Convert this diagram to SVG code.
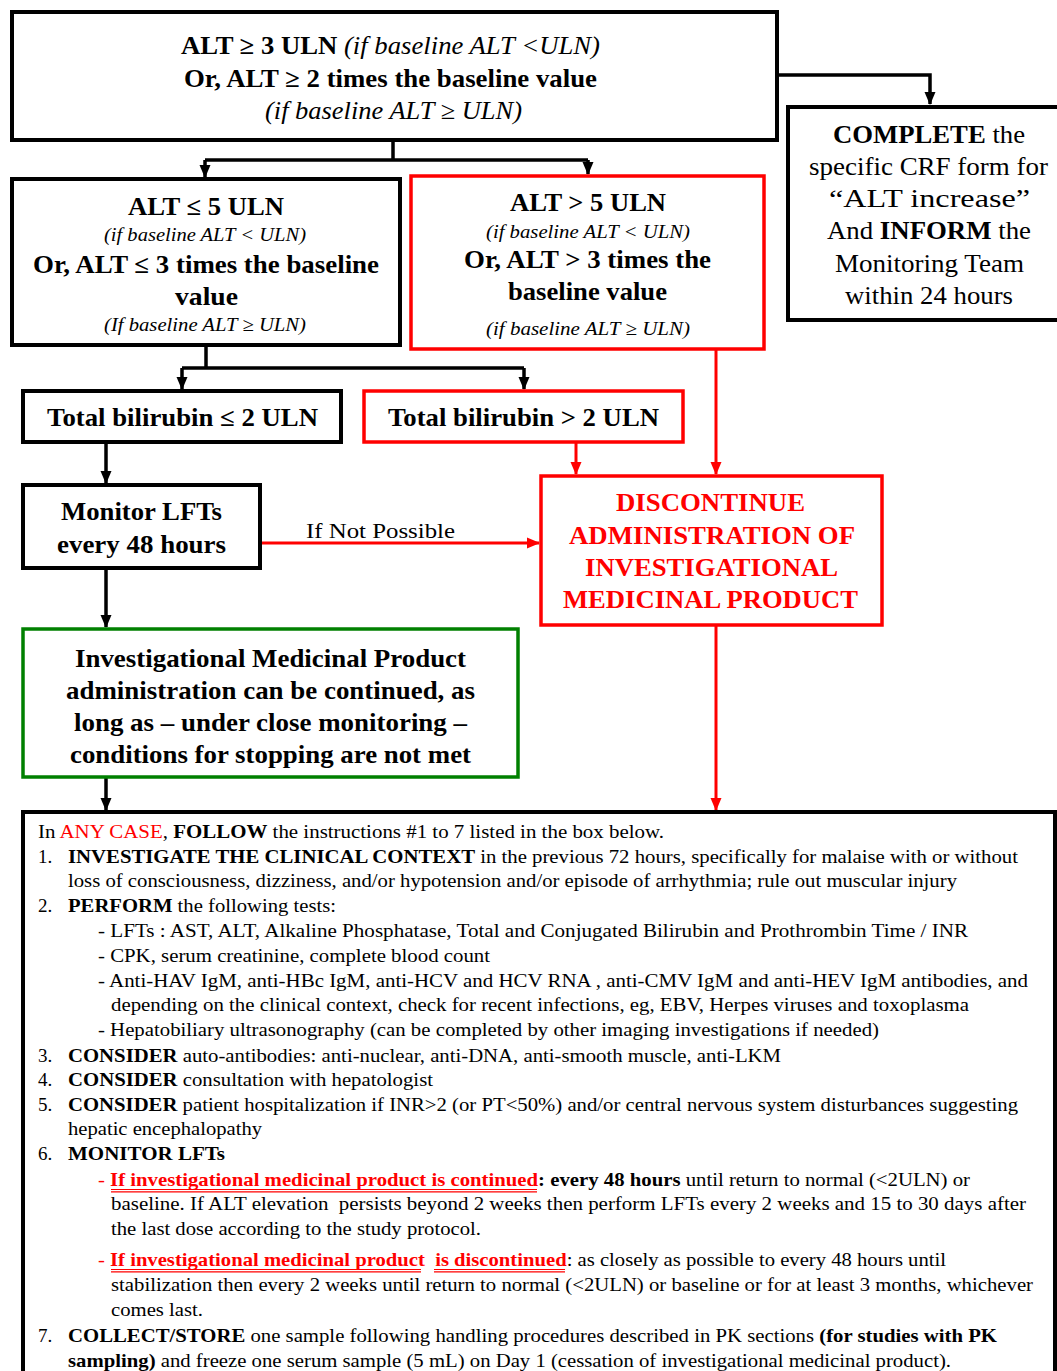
<svg xmlns="http://www.w3.org/2000/svg" width="1057" height="1371" viewBox="0 0 1057 1371">
<style>
text{font-family:"Liberation Serif","Times New Roman",serif;fill:#000}
.fb{font-weight:bold;font-size:25px}
.fi{font-style:italic;font-size:19px}
.fn{font-size:25px}
.red{fill:#f00}
.bx{fill:#fff;stroke:#000;stroke-width:4}
.rbx{fill:#fff;stroke:#f00;stroke-width:3.5}
.gbx{fill:#fff;stroke:#008000;stroke-width:3.5}
.c{fill:none;stroke:#000;stroke-width:3.5}
.rc{fill:none;stroke:#f00;stroke-width:3}
.t{font-size:19px}
.b{font-weight:bold}
.ul{stroke:#f00;stroke-width:1.2}
</style>
<defs>
<marker id="ab" markerUnits="userSpaceOnUse" markerWidth="13" markerHeight="12" refX="12" refY="6" orient="auto"><path d="M0,0.5 L13,6 L0,11.5 Z" fill="#000"/></marker>
<marker id="ar" markerUnits="userSpaceOnUse" markerWidth="13" markerHeight="12" refX="12" refY="6" orient="auto"><path d="M0,0.5 L13,6 L0,11.5 Z" fill="#f00"/></marker>
</defs>
<rect width="1057" height="1371" fill="#fff"/>

<g id="connectors">
<path class="c" d="M777,75 H930 V104" marker-end="url(#ab)"/>
<path class="c" d="M393,140 V160 M205,160 H588"/>
<path class="c" d="M205,160 V177" marker-end="url(#ab)"/>
<path class="c" d="M588,160 V174" marker-end="url(#ab)"/>
<path class="c" d="M206,345 V368 M182,368 H524"/>
<path class="c" d="M182,368 V389" marker-end="url(#ab)"/>
<path class="c" d="M524,368 V389" marker-end="url(#ab)"/>
<path class="rc" d="M716,349 V474" marker-end="url(#ar)"/>
<path class="c" d="M106,442 V483" marker-end="url(#ab)"/>
<path class="rc" d="M576,442 V474" marker-end="url(#ar)"/>
<path class="rc" d="M260,543 H539" marker-end="url(#ar)"/>
<path class="c" d="M106,568 V627" marker-end="url(#ab)"/>
<path class="c" d="M106,777 V810" marker-end="url(#ab)"/>
<path class="rc" d="M716,625 V810" marker-end="url(#ar)"/>
<text x="306" y="538" font-size="22" textLength="149" lengthAdjust="spacingAndGlyphs">If Not Possible</text>
</g>

<g id="n-top">
<rect class="bx" x="12" y="12" width="765" height="128"/>
<text x="181" y="54" class="fb" textLength="419" lengthAdjust="spacingAndGlyphs">ALT ≥ 3 ULN <tspan font-weight="normal" font-style="italic">(if baseline ALT &lt;ULN)</tspan></text>
<text x="184" y="87" class="fb" textLength="413" lengthAdjust="spacingAndGlyphs">Or, ALT ≥ 2 times the baseline value</text>
<text x="265" y="119" class="fn" font-style="italic" textLength="257" lengthAdjust="spacingAndGlyphs">(if baseline ALT ≥ ULN)</text>
</g>

<g id="n-complete">
<rect class="bx" x="788" y="107" width="280" height="213"/>
<text x="833" y="143" class="fn" textLength="192" lengthAdjust="spacingAndGlyphs"><tspan font-weight="bold">COMPLETE</tspan> the</text>
<text x="809" y="175" class="fn" textLength="239" lengthAdjust="spacingAndGlyphs">specific CRF form for</text>
<text x="829" y="207" class="fn" textLength="201" lengthAdjust="spacingAndGlyphs">“ALT increase”</text>
<text x="827" y="239" class="fn" textLength="204" lengthAdjust="spacingAndGlyphs">And <tspan font-weight="bold">INFORM</tspan> the</text>
<text x="835" y="272" class="fn" textLength="189" lengthAdjust="spacingAndGlyphs">Monitoring Team</text>
<text x="845" y="304" class="fn" textLength="168" lengthAdjust="spacingAndGlyphs">within 24 hours</text>
</g>

<g id="n-le5">
<rect class="bx" x="12" y="179" width="388" height="166"/>
<text x="128" y="215" class="fb" textLength="156" lengthAdjust="spacingAndGlyphs">ALT ≤ 5 ULN</text>
<text x="104" y="241" class="fi" textLength="202" lengthAdjust="spacingAndGlyphs">(if baseline ALT &lt; ULN)</text>
<text x="33" y="273" class="fb" textLength="346" lengthAdjust="spacingAndGlyphs">Or, ALT ≤ 3 times the baseline</text>
<text x="175" y="305" class="fb" textLength="63" lengthAdjust="spacingAndGlyphs">value</text>
<text x="104" y="331" class="fi" textLength="202" lengthAdjust="spacingAndGlyphs">(If baseline ALT ≥ ULN)</text>
</g>

<g id="n-gt5">
<rect class="rbx" x="411" y="176" width="353" height="173"/>
<text x="510" y="211" class="fb" textLength="156" lengthAdjust="spacingAndGlyphs">ALT &gt; 5 ULN</text>
<text x="486" y="238" class="fi" textLength="204" lengthAdjust="spacingAndGlyphs">(if baseline ALT &lt; ULN)</text>
<text x="464" y="268" class="fb" textLength="247" lengthAdjust="spacingAndGlyphs">Or, ALT &gt; 3 times the</text>
<text x="508" y="300" class="fb" textLength="159" lengthAdjust="spacingAndGlyphs">baseline value</text>
<text x="486" y="335" class="fi" textLength="204" lengthAdjust="spacingAndGlyphs">(if baseline ALT ≥ ULN)</text>
</g>

<g id="n-bili-le2">
<rect class="bx" x="23" y="391" width="318" height="51"/>
<text x="47" y="426" class="fb" textLength="271" lengthAdjust="spacingAndGlyphs">Total bilirubin ≤ 2 ULN</text>
</g>

<g id="n-bili-gt2">
<rect class="rbx" x="364" y="391" width="319" height="51"/>
<text x="388" y="426" class="fb" textLength="271" lengthAdjust="spacingAndGlyphs">Total bilirubin &gt; 2 ULN</text>
</g>

<g id="n-monitor">
<rect class="bx" x="23" y="485" width="237" height="83"/>
<text x="61" y="520" class="fb" textLength="161" lengthAdjust="spacingAndGlyphs">Monitor LFTs</text>
<text x="57" y="553" class="fb" textLength="169" lengthAdjust="spacingAndGlyphs">every 48 hours</text>
</g>

<g id="n-discontinue">
<rect class="rbx" x="541" y="476" width="341" height="149"/>
<text x="616" y="511" class="fb red" textLength="189" lengthAdjust="spacingAndGlyphs">DISCONTINUE</text>
<text x="569" y="544" class="fb red" textLength="286" lengthAdjust="spacingAndGlyphs">ADMINISTRATION OF</text>
<text x="585" y="576" class="fb red" textLength="253" lengthAdjust="spacingAndGlyphs">INVESTIGATIONAL</text>
<text x="563" y="608" class="fb red" textLength="295" lengthAdjust="spacingAndGlyphs">MEDICINAL PRODUCT</text>
</g>

<g id="n-continue">
<rect class="gbx" x="23" y="629" width="495" height="148"/>
<text x="75" y="667" class="fb" textLength="391" lengthAdjust="spacingAndGlyphs">Investigational Medicinal Product</text>
<text x="66" y="699" class="fb" textLength="409" lengthAdjust="spacingAndGlyphs">administration can be continued, as</text>
<text x="74" y="731" class="fb" textLength="393" lengthAdjust="spacingAndGlyphs">long as – under close monitoring –</text>
<text x="70" y="763" class="fb" textLength="401" lengthAdjust="spacingAndGlyphs">conditions for stopping are not met</text>
</g>

<g id="n-instructions" class="t">
<rect class="bx" x="23" y="812" width="1032" height="580"/>
<text x="38" y="838" class="t" textLength="626" lengthAdjust="spacingAndGlyphs">In <tspan class="red">ANY CASE</tspan>, <tspan class="b">FOLLOW</tspan> the instructions #1 to 7 listed in the box below.</text>
<text x="38" y="863" class="t">1.</text>
<text x="68" y="863" class="t" textLength="950" lengthAdjust="spacingAndGlyphs"><tspan class="b">INVESTIGATE THE CLINICAL CONTEXT</tspan> in the previous 72 hours, specifically for malaise with or without</text>
<text x="68" y="887" class="t" textLength="889" lengthAdjust="spacingAndGlyphs">loss of consciousness, dizziness, and/or hypotension and/or episode of arrhythmia; rule out muscular injury</text>
<text x="38" y="912" class="t">2.</text>
<text x="68" y="912" class="t" textLength="268" lengthAdjust="spacingAndGlyphs"><tspan class="b">PERFORM</tspan> the following tests:</text>
<text x="98" y="937" class="t" textLength="870" lengthAdjust="spacingAndGlyphs">- LFTs : AST, ALT, Alkaline Phosphatase, Total and Conjugated Bilirubin and Prothrombin Time / INR</text>
<text x="98" y="962" class="t" textLength="392" lengthAdjust="spacingAndGlyphs">- CPK, serum creatinine, complete blood count</text>
<text x="98" y="987" class="t" textLength="930" lengthAdjust="spacingAndGlyphs">- Anti-HAV IgM, anti-HBc IgM, anti-HCV and HCV RNA , anti-CMV IgM and anti-HEV IgM antibodies, and</text>
<text x="111" y="1011" class="t" textLength="858" lengthAdjust="spacingAndGlyphs">depending on the clinical context, check for recent infections, eg, EBV, Herpes viruses and toxoplasma</text>
<text x="98" y="1036" class="t" textLength="781" lengthAdjust="spacingAndGlyphs">- Hepatobiliary ultrasonography (can be completed by other imaging investigations if needed)</text>
<text x="38" y="1062" class="t">3.</text>
<text x="68" y="1062" class="t" textLength="713" lengthAdjust="spacingAndGlyphs"><tspan class="b">CONSIDER</tspan> auto-antibodies: anti-nuclear, anti-DNA, anti-smooth muscle, anti-LKM</text>
<text x="38" y="1086" class="t">4.</text>
<text x="68" y="1086" class="t" textLength="365" lengthAdjust="spacingAndGlyphs"><tspan class="b">CONSIDER</tspan> consultation with hepatologist</text>
<text x="38" y="1111" class="t">5.</text>
<text x="68" y="1111" class="t" textLength="950" lengthAdjust="spacingAndGlyphs"><tspan class="b">CONSIDER</tspan> patient hospitalization if INR&gt;2 (or PT&lt;50%) and/or central nervous system disturbances suggesting</text>
<text x="68" y="1135" class="t" textLength="194" lengthAdjust="spacingAndGlyphs">hepatic encephalopathy</text>
<text x="38" y="1160" class="t">6.</text>
<text x="68" y="1160" class="t b" textLength="157" lengthAdjust="spacingAndGlyphs">MONITOR LFTs</text>
<text x="98" y="1186" class="t" textLength="872" lengthAdjust="spacingAndGlyphs"><tspan class="red">- </tspan><tspan class="red b">If investigational medicinal product is continued</tspan><tspan class="b">: every 48 hours</tspan> until return to normal (&lt;2ULN) or</text>
<path class="ul" d="M111,1189.5 H537 M111,1191.8 H537"/>
<text x="111" y="1210" class="t" textLength="915" lengthAdjust="spacingAndGlyphs">baseline. If ALT elevation&#160; persists beyond 2 weeks then perform LFTs every 2 weeks and 15 to 30 days after</text>
<text x="111" y="1235" class="t" textLength="370" lengthAdjust="spacingAndGlyphs">the last dose according to the study protocol.</text>
<text x="98" y="1266" class="t" textLength="848" lengthAdjust="spacingAndGlyphs"><tspan class="red">- </tspan><tspan class="red b">If investigational medicinal product</tspan>&#160; <tspan class="red b">is discontinued</tspan>: as closely as possible to every 48 hours until</text>
<path class="ul" d="M111,1269.5 H421 M111,1271.8 H421 M434,1269.5 H565 M434,1271.8 H565"/>
<text x="111" y="1291" class="t" textLength="922" lengthAdjust="spacingAndGlyphs">stabilization then every 2 weeks until return to normal (&lt;2ULN) or baseline or for at least 3 months, whichever</text>
<text x="111" y="1316" class="t" textLength="92" lengthAdjust="spacingAndGlyphs">comes last.</text>
<text x="38" y="1342" class="t">7.</text>
<text x="68" y="1342" class="t" textLength="929" lengthAdjust="spacingAndGlyphs"><tspan class="b">COLLECT/STORE</tspan> one sample following handling procedures described in PK sections <tspan class="b">(for studies with PK</tspan></text>
<text x="68" y="1367" class="t" textLength="883" lengthAdjust="spacingAndGlyphs"><tspan class="b">sampling)</tspan> and freeze one serum sample (5 mL) on Day 1 (cessation of investigational medicinal product).</text>
</g>
</svg>
